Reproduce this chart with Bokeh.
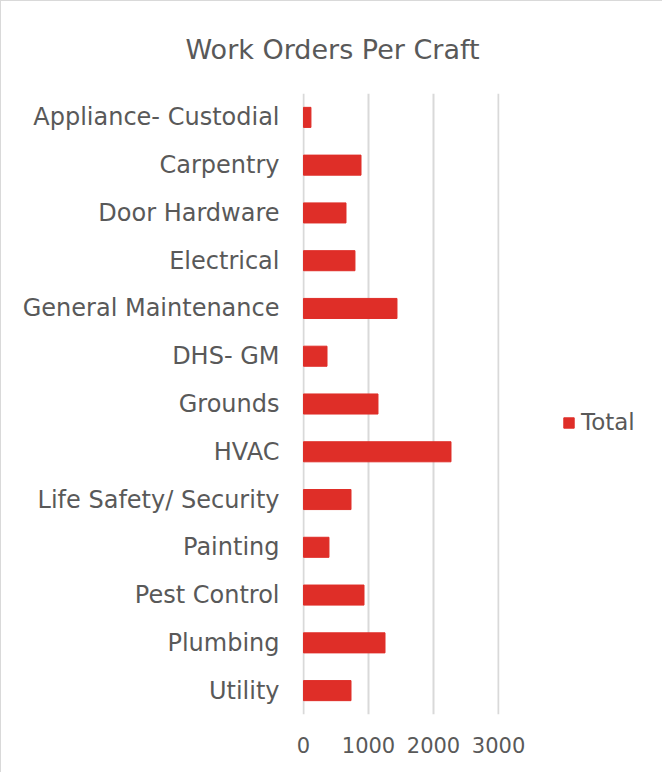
from bokeh.plotting import figure
from bokeh.models import Legend, LegendItem, FixedTicker, Title
from bokeh.embed import file_html
from bokeh.resources import INLINE

crafts = ["Appliance- Custodial", "Carpentry", "Door Hardware", "Electrical",
          "General Maintenance", "DHS- GM", "Grounds", "HVAC",
          "Life Safety/ Security", "Painting", "Pest Control", "Plumbing", "Utility"]
totals = [115, 885, 654, 792, 1438, 362, 1146, 2269, 731, 392, 931, 1254, 731]
x_ticks = [0, 1000, 2000, 3000]

FONT = "DejaVu Sans"
TXT = "#595959"
RED = "#DF2E28"

p = figure(y_range=list(reversed(crafts)), x_range=(-15, 3015),
           frame_width=197, frame_height=621,
           min_border_left=301, min_border_right=162,
           min_border_top=92, min_border_bottom=58,
           output_backend="svg", toolbar_location=None,
           styles={"border-left": "1px solid #d9d9d9", "border-top": "1px solid #d9d9d9"})

r = p.hbar(y=crafts, right=totals, left=0, height=0.42, color=RED)

p.xaxis.ticker = FixedTicker(ticks=x_ticks)
p.xgrid.ticker = FixedTicker(ticks=x_ticks)
p.xgrid.grid_line_color = "#d9d9d9"
p.xgrid.grid_line_width = 2
p.ygrid.grid_line_color = None
p.outline_line_color = None

for ax in (p.xaxis, p.yaxis):
    ax.axis_line_color = None
    ax.major_tick_line_color = None
    ax.minor_tick_line_color = None
    ax.major_tick_out = 0
    ax.major_tick_in = 0
    ax.major_label_text_font = FONT
    ax.major_label_text_color = TXT
p.yaxis.major_label_text_font_size = "24px"
p.xaxis.major_label_text_font_size = "21px"
p.xaxis.major_label_standoff = 22
p.yaxis.major_label_standoff = 23

t = Title(text="Work Orders Per Craft", align="left", offset=-117,
          text_font=FONT, text_font_size="27px", text_color=TXT,
          text_font_style="normal", standoff=58)
p.add_layout(t, "above")

legend = Legend(items=[LegendItem(label="Total", renderers=[r])],
                location=(63, 279), border_line_color=None,
                background_fill_alpha=0, padding=4, margin=0,
                glyph_width=13, glyph_height=13, label_standoff=6,
                label_text_font=FONT, label_text_font_size="23px",
                label_text_color=TXT)
p.add_layout(legend, "right")

open("out.html", "w").write(file_html(p, INLINE))
